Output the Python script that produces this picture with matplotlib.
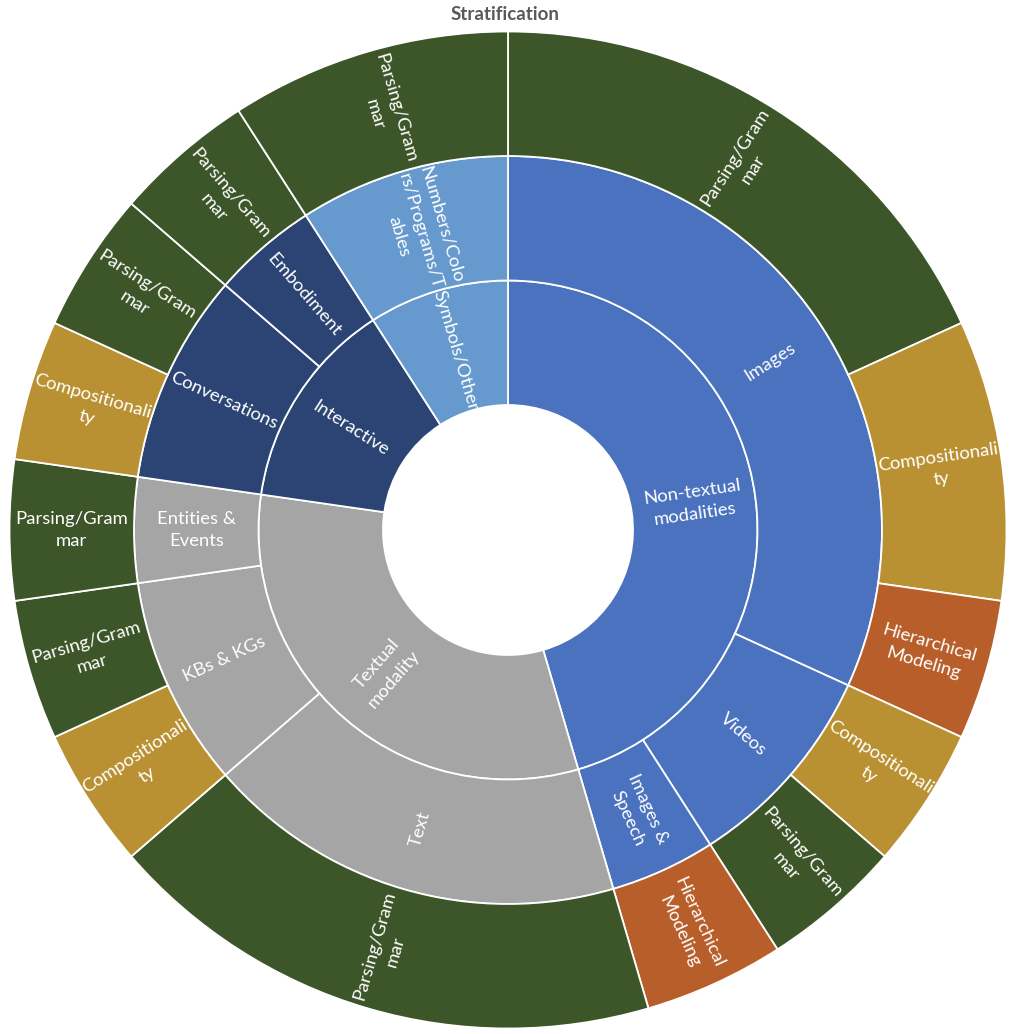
import matplotlib.pyplot as plt
import numpy as np
import pandas as pd

plt.rcParams['font.family'] = ['Lato', 'DejaVu Sans']

# leaves of the sunburst, clockwise from 12 o'clock
group = (["Non-textual\nmodalities"] * 6 + ["Textual\nmodality"] * 4
         + ["Interactive"] * 3 + ["Symbols/Other"])
subgroup = ["Images", "Images", "Images", "Videos", "Videos", "Images &\nSpeech",
            "Text", "KBs & KGs", "KBs & KGs", "Entities &\nEvents",
            "Conversations", "Conversations", "Embodiment",
            "Numbers/Colo\nrs/Programs/T\nables"]
leaf = ["Parsing/Gram\nmar", "Compositionali\nty", "Hierarchical\nModeling",
        "Compositionali\nty", "Parsing/Gram\nmar", "Hierarchical\nModeling",
        "Parsing/Gram\nmar", "Compositionali\nty", "Parsing/Gram\nmar",
        "Parsing/Gram\nmar", "Compositionali\nty", "Parsing/Gram\nmar",
        "Parsing/Gram\nmar", "Parsing/Gram\nmar"]
count = [4, 2, 1, 1, 1, 1, 4, 1, 1, 1, 1, 1, 1, 2]

group_colors = {
    "Non-textual\nmodalities": "#4A72BE",
    "Textual\nmodality": "#A5A5A5",
    "Interactive": "#2B4473",
    "Symbols/Other": "#6699CD",
}
leaf_colors = {
    "Parsing/Gram\nmar": "#3D5629",
    "Compositionali\nty": "#B99133",
    "Hierarchical\nModeling": "#B85E2A",
}

df = pd.DataFrame({"group": group, "subgroup": subgroup, "leaf": leaf, "count": count})
lvl1 = df.groupby("group", sort=False)["count"].sum()
lvl2 = df.groupby(["group", "subgroup"], sort=False)["count"].sum()

fig = plt.figure(figsize=(10.17, 10.34), dpi=100)
ax = fig.add_axes([0, 0, 1, 1])

r_hole = 125
ring = 124.5
rings = [
    (lvl1.index.tolist(), lvl1.values, [group_colors[g] for g in lvl1.index]),
    ([s for g, s in lvl2.index], lvl2.values, [group_colors[g] for g, s in lvl2.index]),
    (df["leaf"].tolist(), df["count"].values, [leaf_colors[l] for l in df["leaf"]]),
]

for i, (labels, vals, cols) in enumerate(rings):
    r_out = r_hole + ring * (i + 1)
    wedges, _ = ax.pie(vals, radius=r_out, startangle=90, counterclock=False,
                       colors=cols,
                       wedgeprops=dict(width=ring, edgecolor="white", linewidth=1.3))
    r_mid = r_out - ring / 2
    for w, lab in zip(wedges, labels):
        mid = (w.theta1 + w.theta2) / 2
        x = r_mid * np.cos(np.radians(mid))
        y = r_mid * np.sin(np.radians(mid))
        # text runs along the radius, flipped on the left half
        rot = (mid + 180) % 360 - 180
        if rot > 90 or rot <= -90:
            rot = (rot + 360) % 360 - 180
        ax.text(x, y, lab, rotation=rot, rotation_mode="anchor",
                ha="center", va="center", multialignment="center",
                color="white", fontsize=13.3, linespacing=1.45)

ax.set_xlim(-508, 1017 - 508)
ax.set_ylim(-(1034 - 530), 530)
ax.set_aspect("equal")
ax.axis("off")

fig.text(505 / 1017, 1 - 14 / 1034, "Stratification", ha="center", va="center",
         fontsize=13.5, fontweight="bold", color="#595959")

fig.savefig("out.png", dpi=100)
